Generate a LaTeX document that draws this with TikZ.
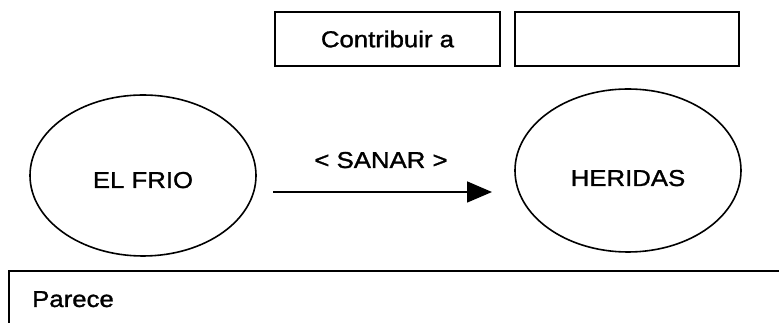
\documentclass[tikz,border=0pt]{standalone}
\usepackage{fontspec}
\setmainfont{Liberation Sans}[FakeStretch=1.12,FakeBold=1.3]
\usetikzlibrary{shapes.geometric,arrows.meta}
\begin{document}
\begin{tikzpicture}[x=1pt,y=1pt,
  every node/.style={font=\fontsize{23}{27}\selectfont},
  tbox/.style={draw, line width=1.4pt, minimum width=225pt, minimum height=54pt, inner sep=0pt},
  oval/.style={draw, ellipse, line width=1.6pt, inner sep=0pt, text depth=0pt},
  link/.style={line width=1.6pt, -{Triangle[length=25pt,width=21pt]}}]
\useasboundingbox (0,0) rectangle (779,323);
% top boxes
\node[tbox] (contrib) at (387.5,284) {Contribuir a};
\node[tbox, minimum width=224pt] (blank) at (627,284) {};
% ellipses
\node[oval, minimum width=226pt, minimum height=161pt, text height=25pt] (frio) at (143,147.5) {EL FRIO};
\node[oval, minimum width=226pt, minimum height=163pt, text height=31pt] (heridas) at (628,152.5) {HERIDAS};
% arrow
\coordinate (astart) at (273,131);
\coordinate (aend) at (492,131);
\draw[link] (astart) -- (aend);
\node[anchor=base] (sanar) at (381,155) {< SANAR >};
% bottom box
\draw[line width=1.4pt] (779,52) -- (9,52) -- (9,0);
\node[anchor=base west, inner sep=0pt] (parece) at (32,16) {Parece};
\end{tikzpicture}
\end{document}
